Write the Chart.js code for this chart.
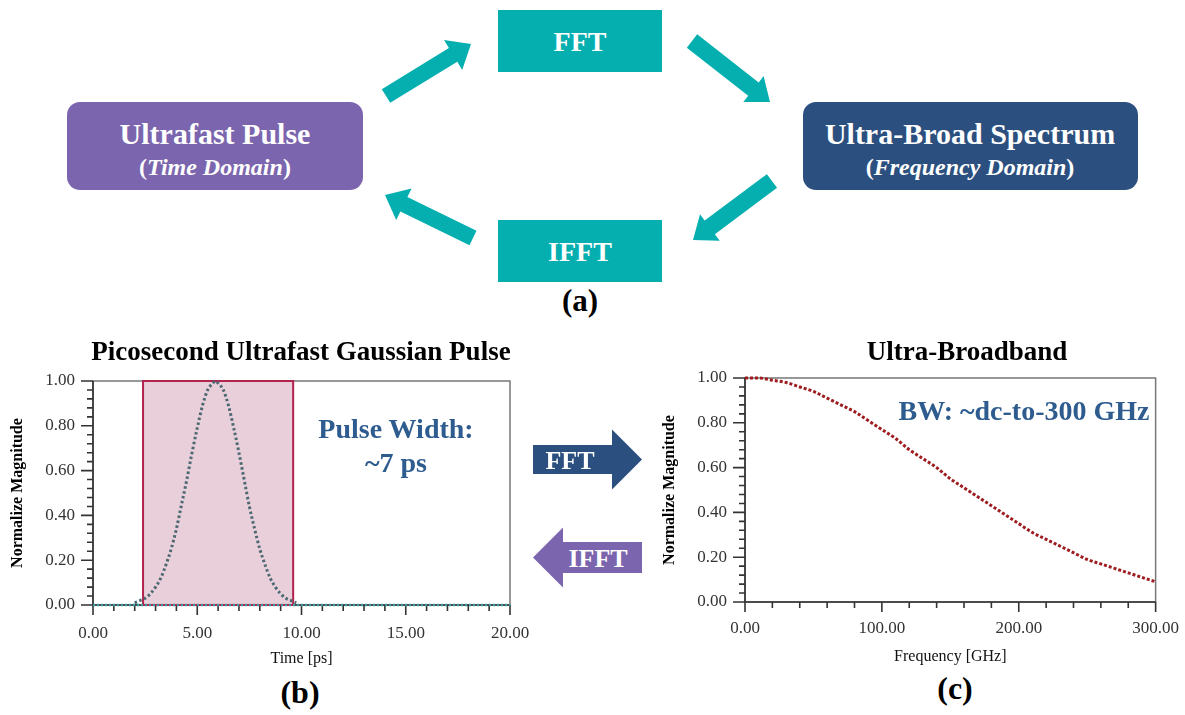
<!DOCTYPE html>
<html>
<head>
<meta charset="utf-8">
<script src="https://cdn.jsdelivr.net/npm/chart.js@4.4.0/dist/chart.umd.min.js"></script>
<style>
  body { margin: 0; width: 1185px; height: 715px; position: relative; overflow: hidden; background: #fff;
         font-family: "Liberation Serif", "Times New Roman", serif; }
  .box { position: absolute; }
  .lbl { position: absolute; transform: translate(-50%, -50%); white-space: nowrap; font-weight: bold; line-height: 1; }
  canvas { position: absolute; }
  svg { position: absolute; left: 0; top: 0; }
</style>
</head>
<body>

<!-- (a) diagram -->
<div class="box" style="left:498px;top:10px;width:164px;height:62px;background:#05AFAF"></div>
<div class="box" style="left:498px;top:220px;width:164px;height:62px;background:#05AFAF"></div>
<div class="box" style="left:67px;top:102px;width:296px;height:88px;background:#7B65AE;border-radius:13px"></div>
<div class="box" style="left:803px;top:102px;width:335px;height:88px;background:#2B4F7E;border-radius:13px"></div>

<svg id="arrows" width="1185" height="715"></svg>

<div class="lbl" style="left:580px;top:42px;font-size:28px;color:#fff">FFT</div>
<div class="lbl" style="left:580px;top:252px;font-size:28px;color:#fff">IFFT</div>
<div class="lbl" style="left:580px;top:300px;font-size:31px;color:#000">(a)</div>
<div class="lbl" style="left:215px;top:134px;font-size:30px;color:#fff">Ultrafast Pulse</div>
<div class="lbl" style="left:215px;top:167px;font-size:24px;color:#fff">(<i>Time Domain</i>)</div>
<div class="lbl" style="left:970px;top:134px;font-size:30px;color:#fff">Ultra-Broad Spectrum</div>
<div class="lbl" style="left:970px;top:167px;font-size:24px;color:#fff">(<i>Frequency Domain</i>)</div>

<!-- charts -->
<canvas id="pulseChart" width="540" height="330" style="left:0;top:340px"></canvas>
<canvas id="specChart" width="535" height="330" style="left:650px;top:340px"></canvas>

<div class="lbl" style="left:301px;top:351px;font-size:27px;color:#000">Picosecond Ultrafast Gaussian Pulse</div>
<div class="lbl" style="left:967px;top:351px;font-size:27px;color:#000">Ultra-Broadband</div>
<div class="lbl" style="left:396px;top:429px;font-size:28px;color:#2E5C8F">Pulse Width:</div>
<div class="lbl" style="left:396px;top:463px;font-size:28px;color:#2E5C8F">~7 ps</div>
<div class="lbl" style="left:1024px;top:411px;font-size:28px;color:#2E5C8F">BW: ~dc-to-300 GHz</div>
<div class="lbl" style="left:570px;top:461px;font-size:26px;color:#fff;z-index:2">FFT</div>
<div class="lbl" style="left:598px;top:559px;font-size:26px;color:#fff;z-index:2">IFFT</div>
<div class="lbl" style="left:300px;top:692px;font-size:32px;color:#000">(b)</div>
<div class="lbl" style="left:955px;top:688px;font-size:32px;color:#000">(c)</div>

<script>
// (b) Gaussian pulse, time in ps
const pulseTime = [2.0, 2.25, 2.5, 2.75, 3.0, 3.25, 3.5, 3.75, 4.0, 4.25, 4.5, 4.75, 5.0, 5.25, 5.5, 5.75, 5.875,
                   6.0, 6.25, 6.5, 6.75, 7.0, 7.25, 7.5, 7.75, 8.0, 8.25, 8.5, 8.75, 9.0, 9.25, 9.5, 9.75];
const pulseMag  = [0.01, 0.02, 0.03, 0.05, 0.08, 0.12, 0.18, 0.25, 0.34, 0.45, 0.56, 0.68, 0.79, 0.89, 0.96, 0.99, 1.00,
                   0.99, 0.96, 0.89, 0.79, 0.68, 0.56, 0.44, 0.34, 0.25, 0.18, 0.12, 0.08, 0.05, 0.03, 0.02, 0.01];
const baseTime = [0, 20];
const baseMag  = [0, 0];
// shaded pulse-width window (outline) and its bottom edge
const windowTime = [2.4, 2.4, 9.6, 9.6];
const windowMag  = [0, 1, 1, 0];
const windowEdgeTime = [2.4, 9.6];
const windowEdgeMag  = [0, 0];

// (c) spectrum, frequency in GHz
const freqGHz = [0, 10, 20, 30, 40, 50, 60, 70, 80, 90, 100, 110, 120, 130, 140, 150,
                 160, 170, 180, 190, 200, 210, 220, 230, 240, 250, 260, 270, 280, 290, 300];
const specMag = [1.00, 1.00, 0.99, 0.98, 0.96, 0.94, 0.91, 0.88, 0.85, 0.81, 0.77, 0.73, 0.68, 0.64, 0.60, 0.55,
                 0.51, 0.47, 0.43, 0.39, 0.35, 0.31, 0.28, 0.25, 0.22, 0.19, 0.17, 0.15, 0.13, 0.11, 0.09];

const timeTicks = [0, 5, 10, 15, 20];
const freqTicks = [0, 100, 200, 300];
const magTicks  = [0, 0.2, 0.4, 0.6, 0.8, 1.0];

// arrows of the (a) diagram: [tail, tip, shaft, head length, head width, colour]
function arrowPts(t, h, sw, hl, hw) {
  const dx = h[0] - t[0], dy = h[1] - t[1], L = Math.hypot(dx, dy);
  const ux = dx / L, uy = dy / L, nx = -uy, ny = ux;
  const bx = h[0] - ux * hl, by = h[1] - uy * hl;
  const p = [[t[0] + nx * sw / 2, t[1] + ny * sw / 2], [bx + nx * sw / 2, by + ny * sw / 2],
             [bx + nx * hw / 2, by + ny * hw / 2], h, [bx - nx * hw / 2, by - ny * hw / 2],
             [bx - nx * sw / 2, by - ny * sw / 2], [t[0] - nx * sw / 2, t[1] - ny * sw / 2]];
  return p.map(q => q[0].toFixed(1) + ',' + q[1].toFixed(1)).join(' ');
}
const arrows = [
  [[386, 96], [471, 44], 16, 21, 35, '#05AFAF'],
  [[692, 41], [770, 102], 17, 21, 33, '#05AFAF'],
  [[772, 181], [693, 240], 17, 21, 33, '#05AFAF'],
  [[473, 238], [385, 195], 16, 21, 35, '#05AFAF'],
  [[533, 459.5], [642, 459.5], 29, 30, 60, '#2B4F7E'],
  [[642, 557.5], [533, 557.5], 31, 30, 60, '#7B65AE']
];
document.getElementById('arrows').innerHTML = arrows.map(a =>
  '<polygon points="' + arrowPts(a[0], a[1], a[2], a[3], a[4]) + '" fill="' + a[5] + '"/>').join('');

const near = (v, list) => list.some(m => Math.abs(v - m) < 1e-6);
const tickFont = { family: 'Liberation Serif', size: 17 };

// frame and major/minor tick marks
const frameTicks = {
  id: 'frameTicks',
  beforeDatasetsDraw(chart, args, opts) {
    const { ctx, chartArea: a, scales: { x, y } } = chart;
    ctx.save();
    ctx.strokeStyle = '#777';
    ctx.lineWidth = 1.5;
    ctx.strokeRect(a.left, a.top, a.width, a.height);
    ctx.strokeStyle = '#333';
    ctx.lineWidth = 1.6;
    ctx.beginPath();
    ctx.moveTo(a.left, a.top); ctx.lineTo(a.left, a.bottom); ctx.lineTo(a.right, a.bottom);
    x.ticks.forEach(t => {
      const px = x.getPixelForValue(t.value);
      ctx.moveTo(px, a.bottom); ctx.lineTo(px, a.bottom + (near(t.value, opts.xMajor) ? 10 : 6));
    });
    y.ticks.forEach(t => {
      const py = y.getPixelForValue(t.value);
      ctx.moveTo(a.left, py); ctx.lineTo(a.left - (near(t.value, magTicks) ? 12 : 6), py);
    });
    ctx.stroke();
    ctx.restore();
  }
};

function makeChart(id, cfg) {
  return new Chart(document.getElementById(id), {
    type: 'line',
    data: { datasets: cfg.datasets },
    plugins: [frameTicks],
    options: {
      responsive: false,
      animation: false,
      layout: { padding: cfg.padding },
      plugins: { legend: { display: false }, tooltip: { enabled: false }, frameTicks: { xMajor: cfg.xMajor } },
      elements: { point: { radius: 0 } },
      scales: {
        x: {
          type: 'linear', min: cfg.xMin, max: cfg.xMax,
          afterFit: s => { s.height = cfg.xHeight; },
          border: { display: false },
          grid: { display: false, drawTicks: true, tickLength: 10 },
          ticks: { stepSize: cfg.xStep, autoSkip: false, maxRotation: 0, padding: cfg.xPad, color: '#333', font: tickFont,
                   callback: v => near(v, cfg.xMajor) ? v.toFixed(2) : '' },
          title: { display: true, text: cfg.xTitle, color: '#111', font: { family: 'Liberation Serif', size: 16 },
                   padding: { top: 0, bottom: cfg.xTitlePad } }
        },
        y: {
          type: 'linear', min: 0, max: 1,
          afterFit: s => { s.width = cfg.yWidth; },
          border: { display: false },
          grid: { display: false, drawTicks: true, tickLength: 10 },
          ticks: { stepSize: 0.04, autoSkip: false, padding: 8, color: '#333', font: tickFont,
                   callback: v => near(v, magTicks) ? v.toFixed(2) : '' },
          title: { display: true, text: 'Normalize Magnitude', color: '#000',
                   font: { family: 'Liberation Serif', size: 16, weight: 'bold' },
                   padding: { top: cfg.yTitlePad, bottom: 0 } }
        }
      }
    }
  });
}

const xy = (xs, ys) => xs.map((v, i) => ({ x: v, y: ys[i] }));

makeChart('pulseChart', {
  padding: { left: 0, top: 41, right: 30, bottom: 0 },
  xMin: 0, xMax: 20, xStep: 1, xMajor: timeTicks, xHeight: 65, xPad: 8, xTitle: 'Time [ps]', xTitlePad: 2,
  yWidth: 93, yTitlePad: 8,
  datasets: [
    { data: xy(windowTime, windowMag), borderColor: '#B2234E', borderWidth: 2, backgroundColor: 'rgba(210,160,180,0.5)',
      fill: 'origin', tension: 0, order: 4, clip: 5 },
    { data: xy(windowEdgeTime, windowEdgeMag), borderColor: '#B2234E', borderWidth: 2, fill: false, order: 3, clip: 5 },
    { data: xy(baseTime, baseMag), borderColor: '#3A9FA3', borderWidth: 2.5, borderDash: [2, 2], fill: false, order: 2, clip: 5 },
    { data: xy(pulseTime, pulseMag), borderColor: '#4C6873', borderWidth: 3, borderDash: [2.5, 2.5], fill: false,
      cubicInterpolationMode: 'monotone', order: 1, clip: 5 }
  ]
});

makeChart('specChart', {
  padding: { left: 0, top: 38, right: 26, bottom: 0 },
  xMin: 0, xMax: 300, xStep: 20, xMajor: freqTicks, xHeight: 68, xPad: 6, xTitle: 'Frequency [GHz]', xTitlePad: 4,
  yWidth: 95, yTitlePad: 10,
  datasets: [
    { data: xy(freqGHz, specMag), borderColor: '#9E1B1F', borderWidth: 3, borderDash: [3, 2], fill: false,
      cubicInterpolationMode: 'monotone', clip: 5 }
  ]
});
</script>
</body>
</html>
